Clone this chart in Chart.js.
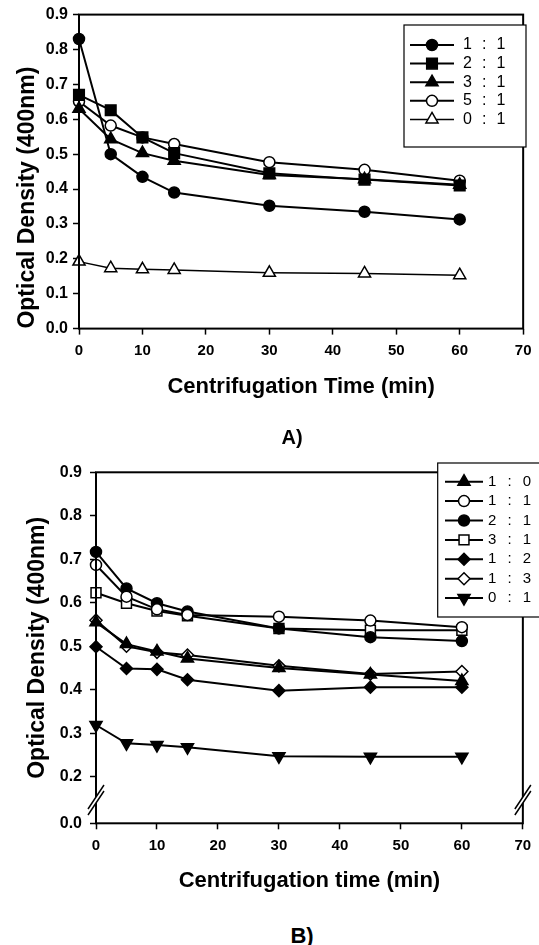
<!DOCTYPE html>
<html>
<head>
<meta charset="utf-8">
<script src="https://cdn.jsdelivr.net/npm/chart.js"></script>
<style>
  body { margin: 0; background: #fff; }
  #pagina { position: relative; width: 539px; height: 945px; font-family: "Liberation Sans", Arial, sans-serif; }
  canvas { position: absolute; left: 0; }
  #graficoA { top: 0; }
  #graficoB { top: 445px; }
  .letra { position: absolute; font-weight: bold; transform: translate(-50%, -50%); }
</style>
</head>
<body>
<div id="pagina">
  <canvas id="graficoA" width="539" height="400"></canvas>
  <canvas id="graficoB" width="539" height="460"></canvas>
  <div class="letra" style="left:292px;top:437px;font-size:20px">A)</div>
  <div class="letra" style="left:302px;top:936px;font-size:22px">B)</div>
</div>
<script>
// Dados
var tempos = [0, 5, 10, 15, 30, 45, 60];
var xTicks = [0, 10, 20, 30, 40, 50, 60, 70];

// Grafico A
var rotulosA = ['1 : 1', '2 : 1', '3 : 1', '5 : 1', '0 : 1'];
var a_1_1 = [0.83, 0.50, 0.435, 0.39, 0.352, 0.335, 0.313];
var a_2_1 = [0.67, 0.626, 0.548, 0.503, 0.445, 0.427, 0.41];
var a_3_1 = [0.63, 0.543, 0.503, 0.481, 0.44, 0.428, 0.412];
var a_5_1 = [0.651, 0.582, 0.548, 0.529, 0.477, 0.455, 0.424];
var a_0_1 = [0.192, 0.173, 0.17, 0.168, 0.16, 0.158, 0.153];
var yTicksA = [0, 0.1, 0.2, 0.3, 0.4, 0.5, 0.6, 0.7, 0.8, 0.9];

// Grafico B
var rotulosB = ['1 : 0', '1 : 1', '2 : 1', '3 : 1', '1 : 2', '1 : 3', '0 : 1'];
var b_1_0 = [0.555, 0.505, 0.488, 0.472, 0.45, 0.435, 0.42];
var b_1_1 = [0.687, 0.614, 0.585, 0.572, 0.568, 0.559, 0.544];
var b_2_1 = [0.717, 0.633, 0.599, 0.58, 0.541, 0.521, 0.512];
var b_3_1 = [0.623, 0.599, 0.581, 0.57, 0.541, 0.537, 0.537];
var b_1_2 = [0.499, 0.449, 0.447, 0.423, 0.398, 0.406, 0.406];
var b_1_3 = [0.56, 0.50, 0.486, 0.48, 0.455, 0.436, 0.442];
var b_0_1 = [0.319, 0.277, 0.273, 0.268, 0.247, 0.246, 0.246];
var yTicksB = [0.2, 0.3, 0.4, 0.5, 0.6, 0.7, 0.8, 0.9];

// eixo quebrado: o "0.0" fica logo abaixo do 0.2
var pisoB = 0.093;

// estilos dos marcadores
var estiloA = {
  forma: ['circle', 'rect', 'triangle', 'circle', 'triangle'],
  cheio: [true, true, true, false, false],
  raio: [5.5, 7.5, 7, 5.5, 7],
  giro: [0, 0, 0, 0, 0],
  linha: [2, 2, 2, 2, 1.5]
};
var estiloB = {
  forma: ['triangle', 'circle', 'circle', 'rect', 'rectRot', 'rectRot', 'triangle'],
  cheio: [true, false, true, false, true, false, true],
  raio: [7, 5.5, 5.5, 7, 6, 6, 7],
  giro: [0, 0, 0, 0, 0, 0, 180],
  linha: [2, 2, 2, 2, 2, 2, 2]
};

Chart.defaults.font.family = '"Liberation Sans", Arial, sans-serif';
Chart.defaults.color = '#000';

function montaSeries(rotulos, valores, est) {
  return rotulos.map(function(r, i) {
    return {
      label: r,
      data: tempos.map(function(t, j) { return {x: t, y: valores[i][j]}; }),
      borderColor: '#000',
      borderWidth: est.linha[i],
      pointStyle: est.forma[i],
      pointRadius: est.raio[i],
      pointRotation: est.giro[i],
      pointBackgroundColor: est.cheio[i] ? '#000' : '#fff',
      pointBorderColor: '#000',
      pointBorderWidth: 1.5,
      tension: 0,
      fill: false,
      clip: false
    };
  });
}

// moldura em volta da area do grafico (+ quebras do eixo no B)
var moldura = {
  id: 'moldura',
  afterDraw: function(chart, args, op) {
    var ctx = chart.ctx, ca = chart.chartArea;
    ctx.save();
    ctx.strokeStyle = '#000';
    ctx.lineWidth = 2;
    ctx.strokeRect(ca.left, ca.top, ca.right - ca.left, ca.bottom - ca.top);
    if (op.quebra) {
      var y = (chart.scales.y.getPixelForValue(0.2) + ca.bottom) / 2;
      [ca.left, ca.right].forEach(function(x) {
        ctx.fillStyle = '#fff';
        ctx.beginPath();
        ctx.moveTo(x - 8, y + 9);
        ctx.lineTo(x + 8, y - 15);
        ctx.lineTo(x + 8, y - 9);
        ctx.lineTo(x - 8, y + 15);
        ctx.closePath();
        ctx.fill();
        ctx.lineWidth = 1.5;
        ctx.beginPath();
        ctx.moveTo(x - 8, y + 9); ctx.lineTo(x + 8, y - 15);
        ctx.moveTo(x - 8, y + 15); ctx.lineTo(x + 8, y - 9);
        ctx.stroke();
      });
    }
    ctx.restore();
  }
};

// legenda em caixa com linha + marcador
var legendaCaixa = {
  id: 'legendaCaixa',
  afterDraw: function(chart, args, op) {
    var ctx = chart.ctx;
    ctx.save();
    ctx.fillStyle = '#fff';
    ctx.fillRect(op.x0, op.y0, op.x1 - op.x0, op.y1 - op.y0);
    ctx.strokeStyle = '#000';
    ctx.lineWidth = 1.2;
    ctx.strokeRect(op.x0, op.y0, op.x1 - op.x0, op.y1 - op.y0);
    chart.data.datasets.forEach(function(ds, i) {
      var y = op.yPrimeira + i * op.passo;
      var xm = (op.linhaIni + op.linhaFim) / 2;
      ctx.lineWidth = ds.borderWidth;
      ctx.beginPath();
      ctx.moveTo(op.linhaIni, y);
      ctx.lineTo(op.linhaFim, y);
      ctx.stroke();
      ctx.fillStyle = ds.pointBackgroundColor;
      ctx.lineWidth = ds.pointBorderWidth;
      Chart.helpers.drawPoint(ctx, {
        pointStyle: ds.pointStyle,
        rotation: ds.pointRotation,
        radius: ds.pointRadius,
        borderWidth: ds.pointBorderWidth
      }, xm, y);
      ctx.fillStyle = '#000';
      ctx.font = op.fonte;
      ctx.letterSpacing = op.espaco;
      ctx.textBaseline = 'middle';
      ctx.textAlign = 'left';
      ctx.fillText(ds.label, op.textoX, y);
    });
    ctx.restore();
  }
};

function eixoX(titulo, altura, padTick, padTitulo) {
  return {
    type: 'linear', min: 0, max: 70,
    afterBuildTicks: function(s) { s.ticks = xTicks.map(function(v) { return {value: v}; }); },
    afterFit: function(s) { s.height = altura; },
    grid: { display: true, drawOnChartArea: false, drawTicks: true, tickLength: 6, tickColor: '#000', tickWidth: 1.5 },
    border: { display: false },
    ticks: { font: { size: 15, weight: 'bold' }, padding: padTick, maxRotation: 0 },
    title: { display: true, text: titulo, font: { size: 22, weight: 'bold' }, padding: { top: 0, bottom: padTitulo } }
  };
}

window.onload = function() {
  var configA = {
    type: 'line',
    data: { datasets: montaSeries(rotulosA, [a_1_1, a_2_1, a_3_1, a_5_1, a_0_1], estiloA) },
    options: {
      responsive: false, animation: false, events: [],
      layout: { padding: { top: 13.3, right: 10, bottom: 0, left: 0 } },
      scales: {
        x: eixoX('Centrifugation Time (min)', 71.4, 7.5, 0),
        y: {
          type: 'linear', min: 0, max: 0.9,
          afterBuildTicks: function(s) { s.ticks = yTicksA.map(function(v) { return {value: v}; }); },
          afterFit: function(s) { s.width = 79; },
          grid: { display: true, drawOnChartArea: false, drawTicks: true, tickLength: 6, tickColor: '#000', tickWidth: 1.5 },
          border: { display: false },
          ticks: { font: { size: 16, weight: 'bold' }, padding: 5, callback: function(v) { return v.toFixed(1); } },
          title: { display: true, text: 'Optical Density (400nm)', align: 'start', font: { size: 23, weight: 'bold' }, padding: { top: 14, bottom: 0 } }
        }
      },
      plugins: {
        legend: { display: false },
        tooltip: { enabled: false },
        moldura: { quebra: false },
        legendaCaixa: { x0: 404, y0: 25, x1: 526, y1: 147, yPrimeira: 45, passo: 18.6, linhaIni: 410, linhaFim: 454, textoX: 463, fonte: '16px "Liberation Sans", Arial, sans-serif', espaco: '2.8px' }
      }
    },
    plugins: [moldura, legendaCaixa]
  };

  var configB = {
    type: 'line',
    data: { datasets: montaSeries(rotulosB, [b_1_0, b_1_1, b_2_1, b_3_1, b_1_2, b_1_3, b_0_1], estiloB) },
    options: {
      responsive: false, animation: false, events: [],
      layout: { padding: { top: 27.3, right: 9, bottom: 0, left: 0 } },
      scales: {
        x: eixoX('Centrifugation time (min)', 81.7, 7.8, 10.8),
        y: {
          type: 'linear', min: pisoB, max: 0.9,
          afterBuildTicks: function(s) { s.ticks = [{value: pisoB}].concat(yTicksB.map(function(v) { return {value: v}; })); },
          afterFit: function(s) { s.width = 96; },
          grid: { display: true, drawOnChartArea: false, drawTicks: true, tickLength: 6, tickColor: '#000', tickWidth: 1.5 },
          border: { display: false },
          ticks: { font: { size: 16, weight: 'bold' }, padding: 8, callback: function(v) { return v === pisoB ? '0.0' : v.toFixed(1); } },
          title: { display: true, text: 'Optical Density (400nm)', font: { size: 23, weight: 'bold' }, padding: { top: 23.7, bottom: 0 } }
        }
      },
      plugins: {
        legend: { display: false },
        tooltip: { enabled: false },
        moldura: { quebra: true },
        legendaCaixa: { x0: 437.7, y0: 18, x1: 545, y1: 172, yPrimeira: 36.7, passo: 19.4, linhaIni: 445, linhaFim: 483, textoX: 488, fonte: '15px "Liberation Sans", Arial, sans-serif', espaco: '3.5px' }
      }
    },
    plugins: [moldura, legendaCaixa]
  };

  window.graficoA = new Chart(document.getElementById('graficoA').getContext('2d'), configA);
  window.graficoB = new Chart(document.getElementById('graficoB').getContext('2d'), configB);
};
</script>
</body>
</html>
